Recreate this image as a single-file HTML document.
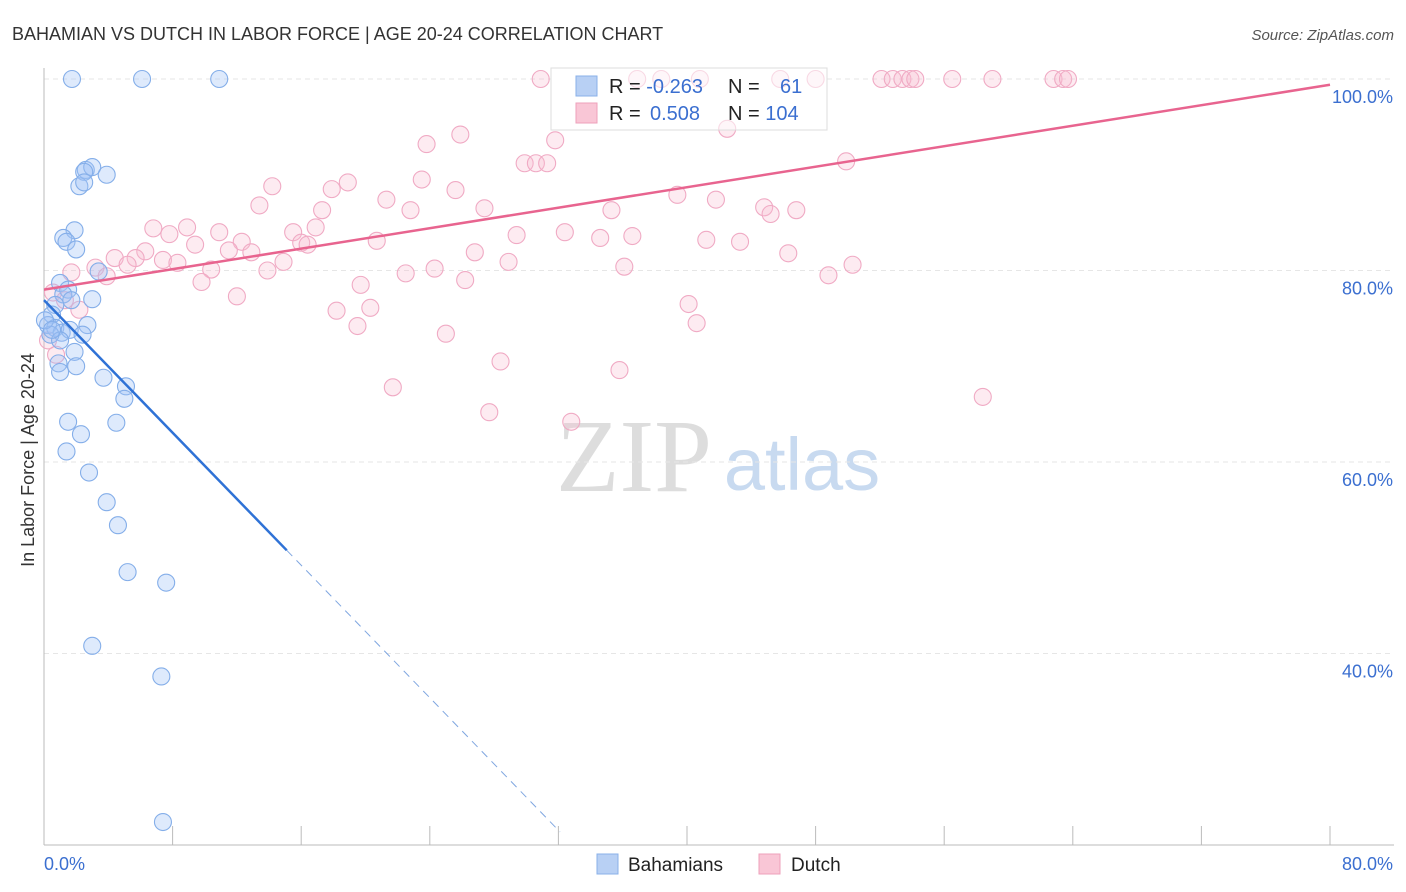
<!DOCTYPE html>
<html><head><meta charset="utf-8"><style>
body{margin:0;background:#fff;font-family:"Liberation Sans",sans-serif;}
svg{display:block}
</style></head><body>
<svg id="chart" width="1406" height="892" xmlns="http://www.w3.org/2000/svg">
<text x="12" y="40" font-size="18" fill="#333">BAHAMIAN VS DUTCH IN LABOR FORCE | AGE 20-24 CORRELATION CHART</text>
<text x="1394" y="40" font-size="15" fill="#555" font-style="italic" text-anchor="end">Source: ZipAtlas.com</text>
<text x="34" y="460" font-size="18" fill="#333" text-anchor="middle" transform="rotate(-90 34 460)">In Labor Force | Age 20-24</text>
<text x="634" y="491" font-size="104" fill="#ddd" font-family="Liberation Serif,serif" text-anchor="middle">ZIP</text>
<text x="802" y="490" font-size="74" fill="#c8daf0" text-anchor="middle">atlas</text>
<g id="grid"></g><g id="axes"></g>
<g>
<rect x="551" y="68" width="276" height="62" fill="#fff" stroke="#ddd"/>
</g>
<g id="pts"></g><g id="lines"></g>
<g>
<rect x="551" y="68" width="276" height="62" fill="rgba(255,255,255,0.55)" stroke="#ddd"/>
<rect x="576" y="76" width="21" height="20" fill="#b8d0f4" stroke="#8ab0e8"/>
<rect x="576" y="103" width="21" height="20" fill="#f9c6d6" stroke="#eea0bb"/>
<text x="609" y="93" font-size="20" fill="#222">R = <tspan fill="#3b6fd0">-0.263</tspan></text>
<text x="728" y="93" font-size="20" fill="#222">N = <tspan fill="#3b6fd0" x="780">61</tspan></text>
<text x="609" y="120" font-size="20" fill="#222">R = <tspan fill="#3b6fd0" x="650">0.508</tspan></text>
<text x="728" y="120" font-size="20" fill="#222">N = <tspan fill="#3b6fd0">104</tspan></text>
</g>
<g>
<rect x="597" y="854" width="21" height="20" fill="#b8d0f4" stroke="#8ab0e8"/>
<text x="628" y="871" font-size="19" fill="#222">Bahamians</text>
<rect x="759" y="854" width="21" height="20" fill="#f9c6d6" stroke="#eea0bb"/>
<text x="791" y="871" font-size="19" fill="#222">Dutch</text>
</g>
</svg>
<script>
const xTicks=[0,8,16,24,32,40,48,56,64,72,80];
const yTicks=[40,60,80,100];
const yTickLabels=["40.0%","60.0%","80.0%","100.0%"];
const blueX=[1.74,6.1,10.9,2.6,3.0,2.5,2.2,2.5,3.9,1.9,1.2,1.4,2.0,3.4,1.0,1.5,1.2,1.7,3.0,0.7,0.5,0.25,0.7,2.7,1.1,1.6,0.4,2.4,1.9,0.9,2.0,1.0,3.7,5.1,5.0,1.5,4.5,2.3,1.4,2.8,3.9,4.6,5.2,7.6,3.0,7.3,7.4,0.06,1.0,0.5];
const blueY=[100,100,100,90.5,90.8,90.3,88.8,89.2,90.0,84.2,83.4,83.0,82.2,79.9,78.7,78.0,77.5,76.9,77.0,76.4,75.4,74.3,74.0,74.3,73.5,73.8,73.3,73.3,71.5,70.3,70.0,69.4,68.8,67.9,66.6,64.2,64.1,62.9,61.1,58.9,55.8,53.4,48.5,47.4,40.8,37.6,22.4,74.8,72.7,73.8];
const pinkX=[30.9,36.9,38.4,40.8,45.8,48,52.1,52.8,53.4,53.9,54.2,56.5,59,62.8,63.4,63.7,25.9,23.8,31.8,42.5,29.9,30.6,31.3,49.9,14.2,18.9,17.9,23.5,25.6,21.3,13.4,17.3,22.8,27.4,35.3,39.4,41.8,44.8,45.2,46.8,6.8,8.9,7.8,10.9,15.5,16.9,20.7,29.4,32.4,34.6,36.6,41.2,43.3,9.4,12.3,16.0,16.4,11.5,12.9,6.3,26.8,46.3,4.4,5.7,7.4,8.3,5.2,14.9,28.9,10.4,13.9,22.5,24.3,36.1,50.3,48.8,3.2,1.7,3.9,9.8,26.2,19.7,12.0,0.56,1.3,40.1,18.2,20.3,40.6,19.5,25.0,28.4,21.7,35.8,58.4,27.7,32.8,0.75,0.25,2.2];
const pinkY=[100,100,100,100,100,100,100,100,100,100,100,100,100,100,100,100,94.2,93.2,93.6,94.8,91.2,91.2,91.2,91.4,88.8,89.2,88.5,89.5,88.4,87.4,86.8,86.3,86.3,86.5,86.3,87.9,87.4,86.6,85.9,86.3,84.4,84.5,83.8,84.0,84.0,84.5,83.1,83.7,84.0,83.4,83.6,83.2,83.0,82.7,83.0,82.9,82.7,82.1,81.9,82.0,81.9,81.8,81.3,81.3,81.1,80.8,80.6,80.9,80.9,80.1,80.0,79.7,80.2,80.4,80.6,79.5,80.3,79.8,79.4,78.8,79.0,78.5,77.3,77.7,76.9,76.5,75.8,76.1,74.5,74.2,73.4,70.5,67.8,69.6,66.8,65.2,64.2,71.2,72.7,75.9];
const blueTrend=[76.9,-1.73];
const blueSolidEnd=15.1, blueDashEnd=32.1;
const pinkTrend=[78.0,0.2675];
const NS="http://www.w3.org/2000/svg";
const X=v=>44+v/80*1286, Y=v=>79+(100-v)/20*191.5;
function mk(p,t,a){const e=document.createElementNS(NS,t);for(const k in a)e.setAttribute(k,a[k]);document.getElementById(p).appendChild(e);return e;}
yTicks.forEach((t,i)=>{
 const g=mk('grid','line',{x1:44,x2:1394,y1:Y(t),y2:Y(t),stroke:'#e6e6e6','stroke-dasharray':'5,4'});
 
 
 const l=mk('grid','text',{x:1393,y:Y(t)+24,'font-size':18,fill:'#3b6fd0','text-anchor':'end'});l.textContent=yTickLabels[i];
 
 
});
const ax=mk('axes','line',{x1:44,x2:1394,y1:845,y2:845,stroke:'#bbb'});


const ay=mk('axes','line',{x1:44,x2:44,y1:68,y2:845,stroke:'#bbb'});


xTicks.forEach(t=>{if(t===0)return;const e=mk('axes','line',{x1:X(t),x2:X(t),y1:826,y2:845,stroke:'#bbb'});
 
 });
const xl0=mk('axes','text',{x:44,y:870,'font-size':18,fill:'#3b6fd0'});xl0.textContent='0.0%';


const xl1=mk('axes','text',{x:1393,y:870,'font-size':18,fill:'#3b6fd0','text-anchor':'end'});xl1.textContent='80.0%';


pinkX.forEach((v,i)=>{const c=mk('pts','circle',{cx:X(v),cy:Y(pinkY[i]),r:8.5,fill:'rgba(248,190,210,0.3)',stroke:'#f0aac4','stroke-width':1.1});
 
 });
blueX.forEach((v,i)=>{const c=mk('pts','circle',{cx:X(v),cy:Y(blueY[i]),r:8.5,fill:'rgba(160,195,245,0.35)',stroke:'#84aee9','stroke-width':1.1});
 
 });
const bt=v=>blueTrend[0]+blueTrend[1]*v, pt=v=>pinkTrend[0]+pinkTrend[1]*v;
const l1=mk('lines','line',{x1:X(0),y1:Y(pt(0)),x2:X(80),y2:Y(pt(80)),stroke:'#e8648f','stroke-width':2.5});


const l2=mk('lines','line',{x1:X(0),y1:Y(bt(0)),x2:X(blueSolidEnd),y2:Y(bt(blueSolidEnd)),stroke:'#2f72d6','stroke-width':2.5});


const l3=mk('lines','line',{x1:X(blueSolidEnd),y1:Y(bt(blueSolidEnd)),x2:X(blueDashEnd),y2:Y(bt(blueDashEnd)),stroke:'#7fa6e0','stroke-width':1,'stroke-dasharray':'8,6'});


</script>
</body></html>
